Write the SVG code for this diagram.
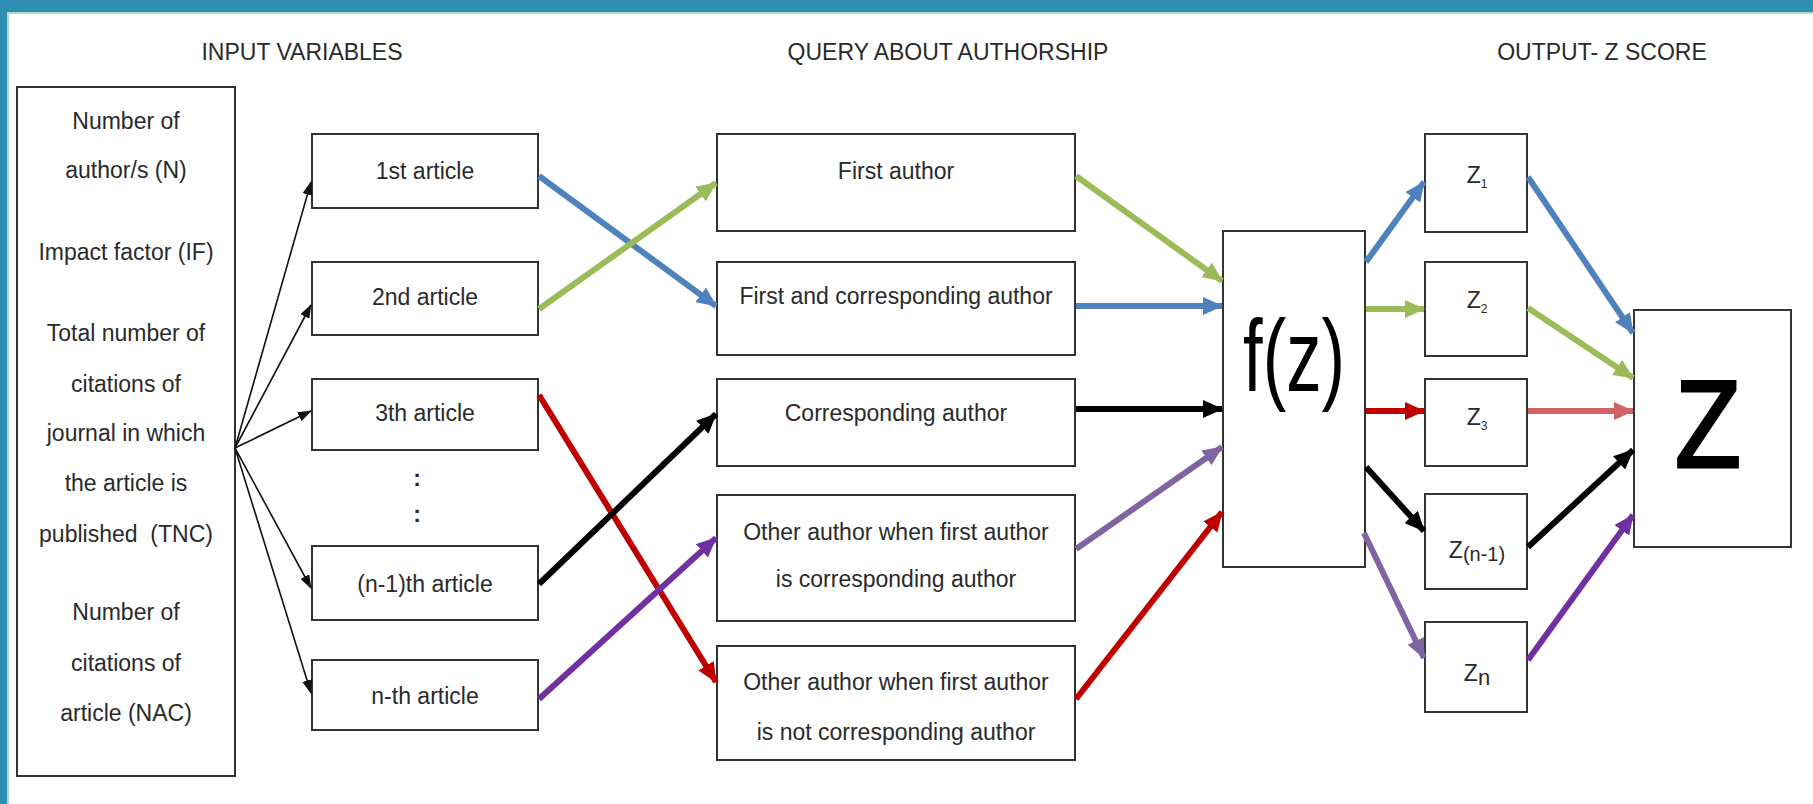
<svg xmlns="http://www.w3.org/2000/svg" width="1813" height="804" viewBox="0 0 1813 804">
<style>
.bx{fill:#fff;stroke:#333;stroke-width:2}
.t{font-family:"Liberation Sans",Arial,sans-serif;font-size:23px;fill:#2a2a2a;text-anchor:middle}
.thin{stroke:#111;stroke-width:1.6;fill:none}
.c{fill:none;stroke-width:6}
</style>
<defs>
<marker id="ak" markerUnits="userSpaceOnUse" markerWidth="14" markerHeight="10" refX="13" refY="5" orient="auto"><path d="M0,0 L14,5 L0,10 Z" fill="#111"/></marker>
<marker id="mb" markerUnits="userSpaceOnUse" markerWidth="20" markerHeight="18" refX="19" refY="9" orient="auto"><path d="M0,0 L20,9 L0,18 Z" fill="#4f81bd"/></marker>
<marker id="mg" markerUnits="userSpaceOnUse" markerWidth="20" markerHeight="18" refX="19" refY="9" orient="auto"><path d="M0,0 L20,9 L0,18 Z" fill="#9bbb59"/></marker>
<marker id="mr" markerUnits="userSpaceOnUse" markerWidth="20" markerHeight="18" refX="19" refY="9" orient="auto"><path d="M0,0 L20,9 L0,18 Z" fill="#c00000"/></marker>
<marker id="mlr" markerUnits="userSpaceOnUse" markerWidth="20" markerHeight="18" refX="19" refY="9" orient="auto"><path d="M0,0 L20,9 L0,18 Z" fill="#d06464"/></marker>
<marker id="mk" markerUnits="userSpaceOnUse" markerWidth="20" markerHeight="18" refX="19" refY="9" orient="auto"><path d="M0,0 L20,9 L0,18 Z" fill="#000"/></marker>
<marker id="mp" markerUnits="userSpaceOnUse" markerWidth="20" markerHeight="18" refX="19" refY="9" orient="auto"><path d="M0,0 L20,9 L0,18 Z" fill="#8064a2"/></marker>
<marker id="md" markerUnits="userSpaceOnUse" markerWidth="20" markerHeight="18" refX="19" refY="9" orient="auto"><path d="M0,0 L20,9 L0,18 Z" fill="#7030a0"/></marker>
</defs>
<rect x="0" y="0" width="1813" height="804" fill="#fff"/>
<rect x="0" y="0" width="1813" height="12" fill="#2f8db2"/>
<rect x="0" y="12" width="1813" height="2" fill="#a9dcc6"/>
<rect x="0" y="0" width="7" height="804" fill="#2f8db2"/>
<rect x="7" y="14" width="2" height="790" fill="#a9dcc6"/>

<g id="titles">
<text class="t" x="302" y="60">INPUT VARIABLES</text>
<text class="t" x="948" y="60">QUERY ABOUT AUTHORSHIP</text>
<text class="t" x="1602" y="60">OUTPUT- Z SCORE</text>
</g>

<g id="inputs">
<rect class="bx" x="17" y="87" width="218" height="689"/>
<text class="t" x="126" y="129">Number of</text>
<text class="t" x="126" y="178">author/s (N)</text>
<text class="t" x="126" y="260">Impact factor (IF)</text>
<text class="t" x="126" y="341">Total number of</text>
<text class="t" x="126" y="392">citations of</text>
<text class="t" x="126" y="441">journal in which</text>
<text class="t" x="126" y="491">the article is</text>
<text class="t" x="126" y="542">published&#160; (TNC)</text>
<text class="t" x="126" y="620">Number of</text>
<text class="t" x="126" y="671">citations of</text>
<text class="t" x="126" y="721">article (NAC)</text>
</g>

<g id="a1"><rect class="bx" x="312" y="134" width="226" height="74"/><text class="t" x="425" y="179">1st article</text></g>
<g id="a2"><rect class="bx" x="312" y="262" width="226" height="73"/><text class="t" x="425" y="305">2nd article</text></g>
<g id="a3"><rect class="bx" x="312" y="379" width="226" height="71"/><text class="t" x="425" y="421">3th article</text></g>
<g id="dots"><text class="t" x="417" y="486" font-weight="bold">:</text><text class="t" x="417" y="522" font-weight="bold">:</text></g>
<g id="an1"><rect class="bx" x="312" y="546" width="226" height="74"/><text class="t" x="425" y="592">(n-1)th article</text></g>
<g id="an"><rect class="bx" x="312" y="660" width="226" height="70"/><text class="t" x="425" y="704">n-th article</text></g>

<g id="q1"><rect class="bx" x="717" y="134" width="358" height="97"/><text class="t" x="896" y="179">First author</text></g>
<g id="q2"><rect class="bx" x="717" y="262" width="358" height="93"/><text class="t" x="896" y="304">First and corresponding author</text></g>
<g id="q3"><rect class="bx" x="717" y="379" width="358" height="87"/><text class="t" x="896" y="421">Corresponding author</text></g>
<g id="q4"><rect class="bx" x="717" y="495" width="358" height="126"/><text class="t" x="896" y="540">Other author when first author</text><text class="t" x="896" y="587">is corresponding author</text></g>
<g id="q5"><rect class="bx" x="717" y="646" width="358" height="114"/><text class="t" x="896" y="690">Other author when first author</text><text class="t" x="896" y="740">is not corresponding author</text></g>

<g id="fz"><rect class="bx" x="1223" y="231" width="142" height="336"/><text x="1294" y="391" font-family="Liberation Sans,Arial,sans-serif" font-size="102" fill="#000" text-anchor="middle" textLength="102" lengthAdjust="spacingAndGlyphs">f(z)</text></g>

<g id="z1"><rect class="bx" x="1425" y="134" width="102" height="98"/><text class="t" x="1477" y="183">Z<tspan font-size="12" dy="5">1</tspan></text></g>
<g id="z2"><rect class="bx" x="1425" y="262" width="102" height="94"/><text class="t" x="1477" y="308">Z<tspan font-size="12" dy="5">2</tspan></text></g>
<g id="z3"><rect class="bx" x="1425" y="379" width="102" height="87"/><text class="t" x="1477" y="425">Z<tspan font-size="12" dy="5">3</tspan></text></g>
<g id="zn1"><rect class="bx" x="1425" y="494" width="102" height="95"/><text class="t" x="1477" y="558">Z<tspan font-size="20" dy="3">(n-1)</tspan></text></g>
<g id="zn"><rect class="bx" x="1425" y="622" width="102" height="90"/><text class="t" x="1477" y="681">Z<tspan font-size="22" dy="4">n</tspan></text></g>

<g id="zout"><rect class="bx" x="1634" y="310" width="157" height="237"/><text x="1708" y="467" font-family="Liberation Sans,Arial,sans-serif" font-size="124" fill="#000" stroke="#000" stroke-width="3" text-anchor="middle" textLength="66" lengthAdjust="spacingAndGlyphs">Z</text></g>

<g id="connectors">
<line class="thin" x1="235" y1="448" x2="311" y2="182" marker-end="url(#ak)"/>
<line class="thin" x1="235" y1="448" x2="311" y2="305" marker-end="url(#ak)"/>
<line class="thin" x1="235" y1="448" x2="311" y2="411" marker-end="url(#ak)"/>
<line class="thin" x1="235" y1="448" x2="311" y2="588" marker-end="url(#ak)"/>
<line class="thin" x1="235" y1="448" x2="311" y2="693" marker-end="url(#ak)"/>

<line class="c" stroke="#4f81bd" x1="539" y1="176" x2="716" y2="306" marker-end="url(#mb)"/>
<line class="c" stroke="#9bbb59" x1="539" y1="309" x2="716" y2="183" marker-end="url(#mg)"/>
<line class="c" stroke="#c00000" x1="539" y1="395" x2="716" y2="682" stroke-width="4" marker-end="url(#mr)"/>
<line class="c" stroke="#000" x1="539" y1="584" x2="716" y2="414" marker-end="url(#mk)"/>
<line class="c" stroke="#7030a0" x1="539" y1="699" x2="716" y2="538" marker-end="url(#md)"/>

<line class="c" stroke="#9bbb59" x1="1076" y1="176" x2="1222" y2="281" marker-end="url(#mg)"/>
<line class="c" stroke="#4f81bd" x1="1076" y1="306" x2="1222" y2="306" marker-end="url(#mb)"/>
<line class="c" stroke="#000" x1="1076" y1="409" x2="1222" y2="409" marker-end="url(#mk)"/>
<line class="c" stroke="#8064a2" x1="1076" y1="549" x2="1222" y2="447" marker-end="url(#mp)"/>
<line class="c" stroke="#c00000" x1="1076" y1="699" x2="1222" y2="512" marker-end="url(#mr)"/>

<line class="c" stroke="#4f81bd" x1="1366" y1="262" x2="1424" y2="182" marker-end="url(#mb)"/>
<line class="c" stroke="#9bbb59" x1="1366" y1="309" x2="1424" y2="309" marker-end="url(#mg)"/>
<line class="c" stroke="#c00000" x1="1366" y1="411" x2="1424" y2="411" marker-end="url(#mr)"/>
<line class="c" stroke="#000" x1="1366" y1="467" x2="1424" y2="531" marker-end="url(#mk)"/>
<line class="c" stroke="#8064a2" x1="1364" y1="533" x2="1424" y2="658" stroke-width="5" marker-end="url(#mp)"/>

<line class="c" stroke="#4f81bd" x1="1528" y1="177" x2="1633" y2="333" marker-end="url(#mb)"/>
<line class="c" stroke="#9bbb59" x1="1528" y1="308" x2="1633" y2="378" marker-end="url(#mg)"/>
<line class="c" stroke="#d06464" x1="1528" y1="411" x2="1633" y2="411" marker-end="url(#mlr)"/>
<line class="c" stroke="#000" x1="1528" y1="547" x2="1633" y2="450" marker-end="url(#mk)"/>
<line class="c" stroke="#7030a0" x1="1528" y1="660" x2="1633" y2="515" stroke-width="5" marker-end="url(#md)"/>
</g>
</svg>
